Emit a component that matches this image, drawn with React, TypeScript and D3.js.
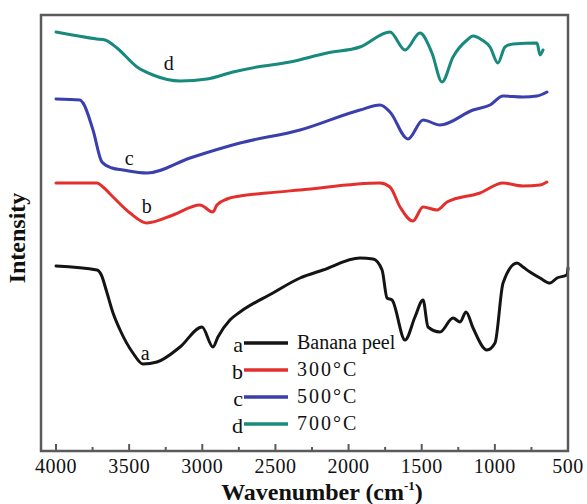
import React from "react";
import * as d3 from "d3";

const W = 587;
const H = 504;

// wavenumber (cm-1) and relative intensity (arbitrary units)
const waveA = [4000, 3720, 3690, 3655, 3610, 3562, 3474, 3405, 3310, 3152, 3002, 2927, 2893, 2811, 2742, 2517, 2332, 2175, 1922, 1833, 1771, 1737, 1703, 1614, 1546, 1491, 1457, 1375, 1286, 1238, 1197, 1149, 1054, 999, 944, 848, 808, 760, 691, 623, 575, 507, 500];
const intA = [185, 181, 176, 160, 138, 121, 98, 87, 89, 104, 124, 104, 114, 131, 139, 158, 173, 181, 193, 192, 181, 153, 151, 111, 134, 151, 124, 119, 133, 129, 139, 123, 101, 108, 168, 188, 184, 179, 173, 168, 173, 176, 183];

const waveB = [4000, 3720, 3679, 3610, 3494, 3378, 3200, 3016, 2927, 2900, 2831, 2742, 2558, 2332, 1785, 1717, 1648, 1560, 1491, 1395, 1327, 1101, 944, 808, 691, 644];
const intB = [268, 268, 264, 254, 238, 228, 236, 246, 239, 246, 252, 255, 258, 261, 268, 264, 244, 230, 244, 241, 249, 258, 268, 265, 266, 269];

const waveC = [4000, 3836, 3815, 3747, 3686, 3617, 3542, 3378, 3084, 2742, 2332, 1922, 1785, 1717, 1594, 1491, 1375, 1149, 1033, 944, 808, 712, 644];
const intC = [352, 351, 348, 321, 289, 283, 281, 278, 293, 308, 321, 341, 346, 339, 312, 331, 326, 341, 346, 355, 354, 355, 359];

const waveD = [4000, 3720, 3665, 3583, 3446, 3337, 3152, 2968, 2790, 2626, 2400, 2147, 1922, 1717, 1614, 1512, 1430, 1361, 1286, 1190, 1149, 1088, 1033, 979, 931, 876, 712, 691, 671];
const intD = [419, 412, 411, 403, 384, 376, 370, 372, 379, 384, 389, 398, 404, 419, 401, 418, 398, 369, 394, 411, 415, 411, 404, 388, 404, 407, 408, 396, 401];

const seriesLetters = ["a", "b", "c", "d"];
const seriesNames = ["Banana peel", "300\u00B0C", "500\u00B0C", "700\u00B0C"];
const seriesColors = ["#141414", "#e3302c", "#3a3fae", "#17897d"];
const majorTicks = [4000, 3500, 3000, 2500, 2000, 1500, 1000, 500];
const minorTicks = [3750, 3250, 2750, 2250, 1750, 1250, 750];
// where the curve letters sit: wavenumber, intensity
const labelWave = [3390, 3380, 3500, 3230];
const labelInt = [91, 238, 286, 381];

export default function App() {
  const frame = { left: 41, top: 15, right: 568, bottom: 451 };
  const x = d3.scaleLinear().domain([4000, 500]).range([56, 568]);
  const y = d3.scaleLinear().domain([0, 436]).range([451, 15]);
  const line = d3
    .line<[number, number]>()
    .x((d) => x(d[0]))
    .y((d) => y(d[1]))
    .curve(d3.curveMonotoneX);

  const waves = [waveA, waveB, waveC, waveD];
  const ints = [intA, intB, intC, intD];
  const serif = "'Liberation Serif', 'DejaVu Serif', serif";

  return (
    <svg
      width={W}
      height={H}
      style={{ position: "absolute", left: 0, top: 0, background: "#fff" }}
      fontFamily={serif}
    >
      <rect x={0} y={0} width={W} height={H} fill="#fff" />
      {waves.map((wv, i) => (
        <path
          key={i}
          d={line(wv.map((w, j) => [w, ints[i][j]] as [number, number])) || ""}
          fill="none"
          stroke={seriesColors[i]}
          strokeWidth={3}
          strokeLinejoin="round"
          strokeLinecap="round"
        />
      ))}
      <rect
        x={frame.left}
        y={frame.top}
        width={frame.right - frame.left}
        height={frame.bottom - frame.top}
        fill="none"
        stroke="#5a5a5a"
        strokeWidth={2.5}
      />
      {majorTicks.map((t) => (
        <g key={t}>
          <line x1={x(t)} x2={x(t)} y1={frame.bottom} y2={frame.bottom - 7} stroke="#5a5a5a" strokeWidth={2} />
          <text x={x(t)} y={473} textAnchor="middle" fontSize={20} fill="#111" letterSpacing={0.5}>
            {t}
          </text>
        </g>
      ))}
      {minorTicks.map((t) => (
        <line key={t} x1={x(t)} x2={x(t)} y1={frame.bottom} y2={frame.bottom - 4} stroke="#5a5a5a" strokeWidth={2} />
      ))}
      {seriesLetters.map((l, i) => (
        <text key={l} x={x(labelWave[i])} y={y(labelInt[i])} textAnchor="middle" fontSize={20} fill="#111">
          {l}
        </text>
      ))}
      {seriesLetters.map((l, i) => {
        const cy = 343 + i * 27;
        return (
          <g key={"lg" + l}>
            <text x={243} y={cy + 9} textAnchor="end" fontSize={22} fill="#111">
              {l}
            </text>
            <line x1={244} x2={288} y1={cy} y2={cy} stroke={seriesColors[i]} strokeWidth={3.5} />
            <text x={297} y={cy + 6} fontSize={20} fill="#111" letterSpacing={i === 0 ? 0 : 2}>
              {seriesNames[i]}
            </text>
          </g>
        );
      })}
      <text x={322} y={500} textAnchor="middle" fontSize={24} fontWeight="bold" fill="#111">
        Wavenumber (cm
        <tspan fontSize={13} dy={-10}>-1</tspan>
        <tspan dy={10}>)</tspan>
      </text>
      <text
        transform={`translate(25, 238) rotate(-90)`}
        textAnchor="middle"
        fontSize={24}
        fontWeight="bold"
        fill="#111"
      >
        Intensity
      </text>
    </svg>
  );
}
